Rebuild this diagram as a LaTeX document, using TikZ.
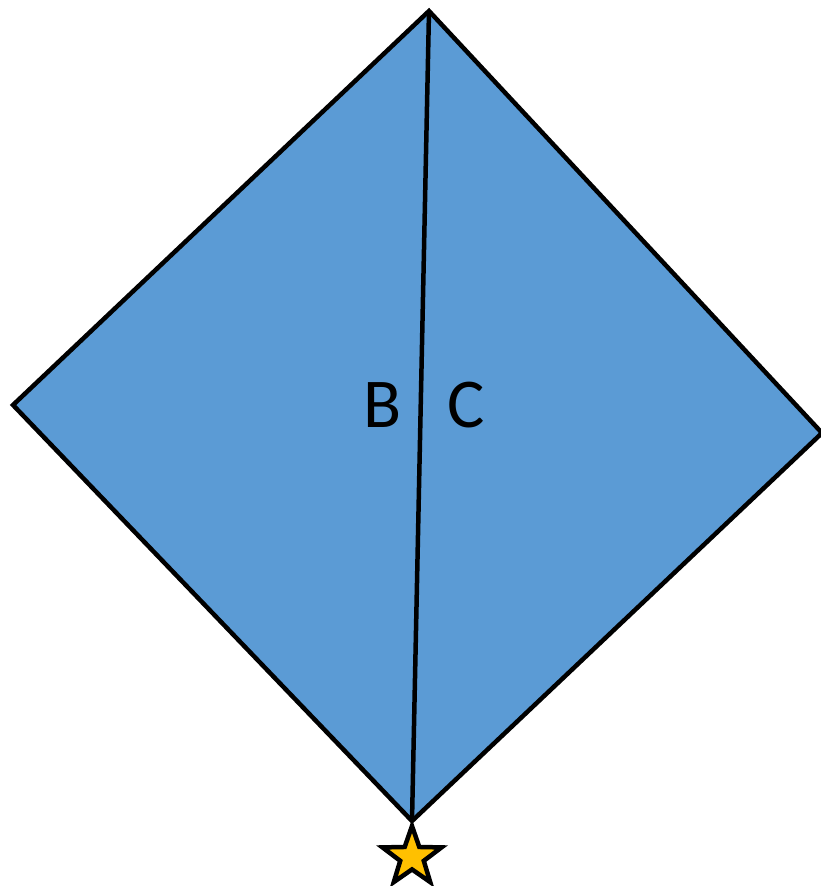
\documentclass[tikz,border=0pt]{standalone}
\usepackage{fontspec}
\setmainfont{Carlito}
\usetikzlibrary{shapes.geometric}
\definecolor{kiteblue}{HTML}{5B9BD5}
\definecolor{stargold}{HTML}{FFC000}
\tikzset{
  edge/.style={draw=black, line width=4.5pt, line join=miter},
  lbl/.style={font=\fontsize{70}{70}\selectfont, text=black, inner sep=0pt},
  starmark/.style={star, star points=5, star point ratio=2.5, minimum size=62pt, inner sep=0pt, fill=stargold, draw=black, line width=4.5pt}
}
\begin{document}
\begin{tikzpicture}[x=1pt,y=-1pt]
\useasboundingbox (0,0) rectangle (820,886);
\coordinate (T) at (429,11);
\coordinate (L) at (13,405);
\coordinate (Bt) at (412,821);
\coordinate (R) at (822,433);
\path[fill=kiteblue] (T) -- (L) -- (Bt) -- (R) -- cycle;
\draw[edge] (T) -- (L) -- (Bt) -- (R) -- cycle;
\draw[edge] (T) -- (Bt);
\node[lbl] (b) at (383,405) {B};
\node[lbl] (c) at (466,405) {C};
\node[starmark] (s) at (412,857) {};
\end{tikzpicture}
\end{document}
